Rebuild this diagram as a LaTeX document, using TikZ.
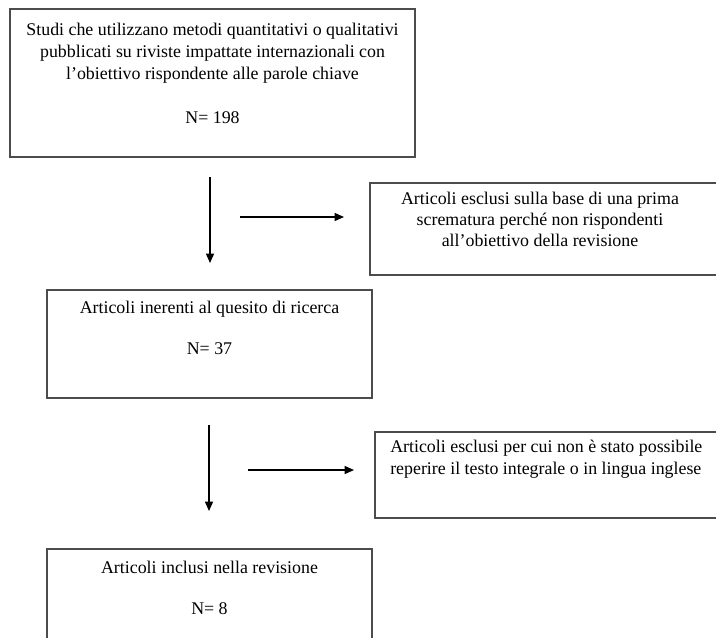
\documentclass[tikz,border=0pt]{standalone}
\usepackage{fontspec}
\setmainfont{Liberation Serif}
\usetikzlibrary{arrows.meta,positioning}
\tikzset{
  riquadro/.style={rectangle,draw=black!70,line width=0.9pt,inner sep=0pt},
  testo/.style={inner sep=0pt,anchor=north,font=\fontsize{13.4}{16.5}\selectfont},
  freccia/.style={-{Triangle[length=7pt,width=6pt]},line width=1pt}
}

\begin{document}
\begin{tikzpicture}[x=0.75pt,y=-0.75pt]
  \useasboundingbox (0,0) rectangle (716,637);
  \clip (0,0) rectangle (716,637);
  % riquadri
  \node[riquadro,minimum width=303.75pt,minimum height=111pt] (studi) at (212.5,83) {};
  \node[riquadro,minimum width=273.75pt,minimum height=69pt] (esclusi1) at (552.5,229) {};
  \node[riquadro,minimum width=243.75pt,minimum height=81pt] (inerenti) at (209.5,344) {};
  \node[riquadro,minimum width=270pt,minimum height=64.5pt] (esclusi2) at (555,475) {};
  \node[riquadro,minimum width=243.75pt,minimum height=83.25pt] (inclusi) at (209.5,604.5) {};
  % testi
  \node[testo,align=center] (tstudi) at (212.5,23) {Studi che utilizzano metodi quantitativi o qualitativi\\
    pubblicati su riviste impattate internazionali con\\
    l’obiettivo rispondente alle parole chiave\\[16.5pt]N= 198};
  \node[testo,align=center,font=\fontsize{13.4}{15.5}\selectfont] (tesclusi1) at (540,192) {Articoli esclusi sulla base di una prima\\
    scrematura perché non rispondenti\\ all’obiettivo della revisione};
  \node[testo,align=center] (tinerenti) at (209.5,301) {Articoli inerenti al quesito di ricerca\\[14pt]N= 37};
  \node[testo,align=left,anchor=north west] (tesclusi2) at (390,440) {Articoli esclusi per cui non è stato possibile\\
    reperire il testo integrale o in lingua inglese};
  \node[testo,align=center] (tinclusi) at (209.5,561) {Articoli inclusi nella revisione\\[14pt]N= 8};
  % frecce
  \coordinate (giu1a) at (210,177);
  \coordinate (giu1b) at (210,263);
  \coordinate (dx1a) at (240,217);
  \coordinate (dx1b) at (344,217);
  \coordinate (giu2a) at (209,425);
  \coordinate (giu2b) at (209,511);
  \coordinate (dx2a) at (248,470);
  \coordinate (dx2b) at (354,470);
  \draw[freccia] (giu1a) -- (giu1b);
  \draw[freccia] (dx1a) -- (dx1b);
  \draw[freccia] (giu2a) -- (giu2b);
  \draw[freccia] (dx2a) -- (dx2b);
\end{tikzpicture}
\end{document}
